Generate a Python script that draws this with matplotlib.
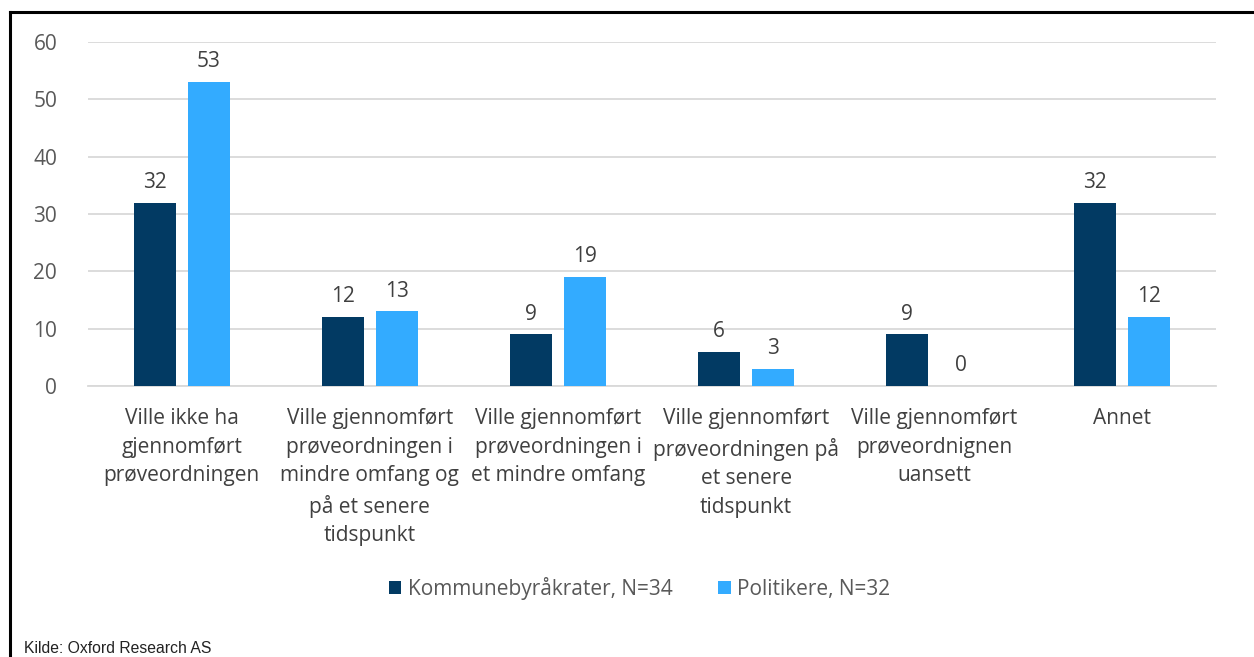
import numpy as np
import matplotlib
matplotlib.use("Agg")
import matplotlib.pyplot as plt
from matplotlib.lines import Line2D

categories = [
    "Ville ikke ha\ngjennomført\nprøveordningen",
    "Ville gjennomført\nprøveordningen i\nmindre omfang og\npå et senere\ntidspunkt",
    "Ville gjennomført\nprøveordningen i\net mindre omfang",
    "Ville gjennomført\nprøveordningen på\net senere\ntidspunkt",
    "Ville gjennomført\nprøveordnignen\nuansett",
    "Annet",
]
byraakrater = [32, 12, 9, 6, 9, 32]
politikere = [53, 13, 19, 3, 0, 12]
series_names = ["Kommunebyråkrater, N=34", "Politikere, N=32"]
yticks = [0, 10, 20, 30, 40, 50, 60]

dark = "#023A63"
light = "#33ABFF"
grey = "#595959"

plt.rcParams["font.family"] = ["Open Sans", "DejaVu Sans"]

fig = plt.figure(figsize=(12.54, 6.57), dpi=100)
ax = fig.add_axes([0.070, 0.4125, 0.900, 0.5235])

x = np.arange(len(categories))
w = 0.223
off = 0.144
b1 = ax.bar(x - off, byraakrater, w, color=dark, label=series_names[0], zorder=3)
b2 = ax.bar(x + off, politikere, w, color=light, label=series_names[1], zorder=3)

for bars in (b1, b2):
    ax.bar_label(bars, padding=7, fontsize=15, color="#404040")

ax.set_xlim(-0.5, len(categories) - 0.5)
ax.set_ylim(0, 60)
ax.set_yticks(yticks)
ax.tick_params(axis="y", length=0, pad=22, labelsize=15, labelcolor=grey)
ax.set_xticks(x)
ax.set_xticklabels(categories, fontsize=15, color="#404040", linespacing=1.47)
ax.tick_params(axis="x", length=0, pad=16)
ax.yaxis.grid(True, color="#d9d9d9", linewidth=1.3, zorder=0)
for s in ["top", "right", "left"]:
    ax.spines[s].set_visible(False)
ax.spines["bottom"].set_color("#d9d9d9")
ax.spines["bottom"].set_linewidth(1.3)

fig.legend(handles=[b1, b2], labels=series_names, loc="center", bbox_to_anchor=(0.51, 0.105),
           ncol=2, frameon=False, fontsize=15, handlelength=0.6, handleheight=0.6,
           handletextpad=0.3, columnspacing=2.2, labelcolor=grey)

fig.text(0.019, 0.002, "Kilde: Oxford Research AS", fontsize=11.3, family="Liberation Sans",
         color="#222222", va="bottom")

fig.add_artist(Line2D([0.008, 1.0], [0.982, 0.982], color="black", linewidth=2.2, transform=fig.transFigure))
fig.add_artist(Line2D([0.008, 0.008], [0.982, 0.0], color="black", linewidth=2.2, transform=fig.transFigure))

fig.savefig("out.png", dpi=100)
